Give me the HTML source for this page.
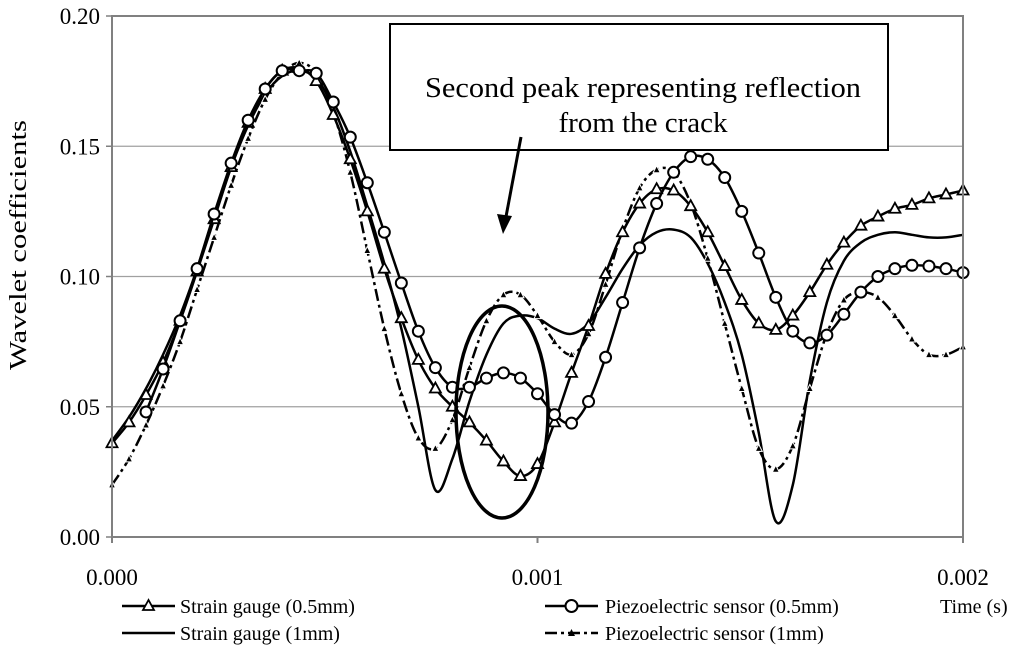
<!DOCTYPE html>
<html><head><meta charset="utf-8"><style>
body{margin:0;background:#fff;}
svg text{font-family:"Liberation Serif",serif;fill:#000;}
</style></head><body>
<svg id="chart" width="1024" height="649" viewBox="0 0 1024 649" xmlns="http://www.w3.org/2000/svg">
<g id="grid"></g>
<g id="series"></g>
<g id="axes"></g>
<g>
<rect x="390" y="24" width="498" height="126" fill="#fff" stroke="#000" stroke-width="2"/>
<text x="643" y="97" font-size="29" text-anchor="middle" textLength="436" lengthAdjust="spacingAndGlyphs">Second peak representing reflection</text>
<text x="643" y="132" font-size="29" text-anchor="middle">from the crack</text>
<line x1="521" y1="137" x2="505" y2="222" stroke="#000" stroke-width="3"/>
<polygon points="503,234 497,214 512,216" fill="#000"/>
<ellipse cx="502" cy="412" rx="46" ry="106" fill="none" stroke="#000" stroke-width="3.5"/>
</g>
<text transform="translate(26,245) rotate(-90)" font-size="24" text-anchor="middle" textLength="250" lengthAdjust="spacingAndGlyphs">Wavelet coefficients</text>
<text x="940" y="613" font-size="20">Time (s)</text>
<g>
<g>
<line x1="122" y1="606" x2="175" y2="606" stroke="#000" stroke-width="2.5"/>
<polygon points="148.5,600 143,610 154,610" fill="#fff" stroke="#000" stroke-width="1.8"/>
<text x="180" y="613" font-size="20">Strain gauge (0.5mm)</text></g>
<g>
<line x1="122" y1="633" x2="175" y2="633" stroke="#000" stroke-width="2.5"/>
<text x="180" y="640" font-size="20">Strain gauge (1mm)</text></g>
<g>
<line x1="545" y1="606" x2="598" y2="606" stroke="#000" stroke-width="2.5"/>
<circle cx="571.5" cy="606" r="6" fill="#fff" stroke="#000" stroke-width="2"/>
<text x="605" y="613" font-size="20">Piezoelectric sensor (0.5mm)</text></g>
<g>
<line x1="545" y1="633" x2="598" y2="633" stroke="#000" stroke-width="2.5" stroke-dasharray="12,4,3,4"/>
<polygon points="571.5,629 568,636 575,636" fill="#000"/>
<text x="605" y="640" font-size="20">Piezoelectric sensor (1mm)</text></g>
</g>
</svg>
<script>
const step = 0.00004;
const yTicks = [0, 0.05, 0.10, 0.15, 0.20];
const yTickLabels = ["0.00","0.05","0.10","0.15","0.20"];
const xTicks = [0, 0.001, 0.002];
const xTickLabels = ["0.000","0.001","0.002"];
const strain05 = [.036,.044,.0545,.067,.083,.102,.122,.142,.159,.172,.179,.180,.175,.162,.145,.125,.103,.084,.068,.057,.050,.044,.037,.029,.0234,.028,.044,.063,.081,.101,.117,.128,.1335,.133,.127,.117,.104,.091,.082,.0795,.085,.094,.1045,.113,.1195,.123,.126,.1275,.130,.1315,.133];
const piezo05Start = 2;
const piezo05 = [.048,.0645,.083,.103,.124,.1435,.160,.172,.179,.179,.178,.167,.1535,.136,.117,.0975,.079,.065,.0575,.0575,.061,.063,.061,.055,.047,.0437,.052,.069,.090,.111,.128,.140,.146,.145,.138,.125,.109,.092,.079,.0745,.0775,.0855,.094,.100,.103,.1043,.104,.103,.1015];
const strain1 = [.037,.046,.057,.070,.085,.103,.123,.142,.158,.170,.177,.179,.176,.165,.148,.127,.105,.080,.050,.018,.030,.052,.070,.082,.085,.084,.080,.078,.082,.092,.103,.112,.117,.118,.115,.105,.090,.070,.040,.006,.020,.060,.090,.106,.113,.116,.117,.116,.115,.115,.116];
const piezo1 = [.020,.030,.043,.058,.075,.095,.115,.135,.153,.168,.178,.182,.178,.163,.140,.110,.080,.055,.038,.034,.045,.065,.083,.093,.093,.085,.075,.070,.078,.097,.118,.134,.141,.140,.128,.107,.082,.057,.034,.026,.035,.057,.078,.091,.094,.092,.085,.076,.070,.070,.073];

const NS="http://www.w3.org/2000/svg";
const X0=112,X1=963,Y0=537,Y1=16;
const xs=t=>X0+t/0.002*(X1-X0);
const ys=v=>Y0-v/0.2*(Y0-Y1);
function mk(tag,attrs,parent){const e=document.createElementNS(NS,tag);for(const k in attrs)e.setAttribute(k,attrs[k]);parent.appendChild(e);return e;}
const grid=document.getElementById('grid'),axes=document.getElementById('axes'),ser=document.getElementById('series');
yTicks.forEach((v,i)=>{
  if(v>0&&v<0.2){const l=mk('line',{x1:X0,x2:X1,y1:ys(v),y2:ys(v),stroke:'#a0a0a0','stroke-width':1.2},grid);
  
  }
  mk('line',{x1:X0-6,x2:X0,y1:ys(v),y2:ys(v),stroke:'#808080','stroke-width':1.5},axes);
  const t=mk('text',{x:100,y:ys(v)+8,'font-size':23,'text-anchor':'end'},axes);t.textContent=yTickLabels[i];
  
  
});
const fr=mk('rect',{x:X0,y:Y1,width:X1-X0,height:Y0-Y1,fill:'none',stroke:'#808080','stroke-width':2},axes);


xTicks.forEach((v,i)=>{
  mk('line',{x1:xs(v),x2:xs(v),y1:Y0,y2:Y0+6,stroke:'#808080','stroke-width':2},axes);
  const t=mk('text',{x:xs(v),y:585,'font-size':23,'text-anchor':'middle'},axes);t.textContent=xTickLabels[i];
  
  
});
function pathD(pts){let d=`M${pts[0][0]},${pts[0][1]}`;for(let i=0;i<pts.length-1;i++){const p0=pts[Math.max(0,i-1)],p1=pts[i],p2=pts[i+1],p3=pts[Math.min(pts.length-1,i+2)];
 const c1=[p1[0]+(p2[0]-p0[0])/6,p1[1]+(p2[1]-p0[1])/6],c2=[p2[0]-(p3[0]-p1[0])/6,p2[1]-(p3[1]-p1[1])/6];d+=`C${c1[0]},${c1[1]} ${c2[0]},${c2[1]} ${p2[0]},${p2[1]}`;}return d;}
function draw(vals,start,name,style,marker){
  const pts=vals.map((v,i)=>[xs((i+start)*step),ys(v)]);
  const p=mk('path',Object.assign({d:pathD(pts),fill:'none',stroke:'#000'},style),ser);
  
  
  if(marker) pts.forEach(q=>{const m=marker(q);
    
    });
}
draw(strain1,0,'strain-gauge-1mm',{'stroke-width':2.5},null);
draw(piezo1,0,'piezo-sensor-1mm',{'stroke-width':2.5,'stroke-dasharray':'12,4,3,4'},q=>mk('polygon',{points:`${q[0]},${q[1]-4} ${q[0]-3.5},${q[1]+3} ${q[0]+3.5},${q[1]+3}`,fill:'#000',stroke:'#fff','stroke-width':1},ser));
draw(strain05,0,'strain-gauge-05mm',{'stroke-width':2.5},q=>mk('polygon',{points:`${q[0]},${q[1]-6} ${q[0]-5.5},${q[1]+4} ${q[0]+5.5},${q[1]+4}`,fill:'#fff',stroke:'#000','stroke-width':1.8},ser));
draw(piezo05,piezo05Start,'piezo-sensor-05mm',{'stroke-width':2.5},q=>mk('circle',{cx:q[0],cy:q[1],r:5.5,fill:'#fff',stroke:'#000','stroke-width':2},ser));
</script>
</body></html>
